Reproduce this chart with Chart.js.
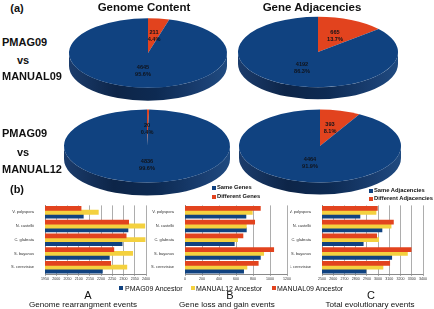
<!DOCTYPE html>
<html lang="en">
<head>
    <meta charset="UTF-8">
    <title>Genome Content and Gene Adjacencies</title>
    <style>
        html, body { margin: 0; padding: 0; background: #fff; overflow: hidden; }
        #page { position: relative; width: 434px; height: 309px; font-family: "Liberation Sans", Arial, sans-serif; color: #111; }
        #page canvas { position: absolute; }
        .txt { position: absolute; white-space: nowrap; line-height: 1; transform: translate(-50%, -50%); }
        .left { transform: translate(0, -50%); }
        .bold { font-weight: bold; }
        .mark { position: absolute; width: 4px; height: 4px; }
    </style>
</head>
<body>
    <div id="page"></div>

    <script src="https://cdn.jsdelivr.net/npm/chart.js"></script>
    <script>
        // Pie values, listed as [different, same]
        const genomeManual09 = [211, 4645];
        const adjacencyManual09 = [665, 4192];
        const genomeManual12 = [20, 4836];
        const adjacencyManual12 = [393, 4464];
        const genomeManual09Pct = ['4.4%', '95.6%'];
        const adjacencyManual09Pct = ['13.7%', '86.3%'];
        const genomeManual12Pct = ['0.4%', '99.6%'];
        const adjacencyManual12Pct = ['8.1%', '91.9%'];

        // Bar charts, categories run top to bottom
        const species = ['V. polyspora', 'N. castellii', 'C. glabrata', 'S. bayanus', 'S. cerevisiae'];
        const ancestors = ['PMAG09 Ancestor', 'MANUAL12 Ancestor', 'MANUAL09 Ancestor'];

        const rearrangePmag = [2120, 2319, 2293, 2236, 2205];
        const rearrangeManual12 = [2187, 2394, 2395, 2340, 2314];
        const rearrangeManual09 = [2110, 2322, 2311, 2256, 2242];

        const lossGainPmag = [715, 720, 578, 885, 688];
        const lossGainManual12 = [790, 720, 617, 924, 727];
        const lossGainManual09 = [885, 818, 680, 1042, 860];

        const totalPmag = [2837, 3033, 2866, 3120, 2890];
        const totalManual12 = [2980, 3114, 3004, 3260, 3042];
        const totalManual09 = [2992, 3135, 2986, 3293, 3102];

        const rearrangeTicks = [1950, 2000, 2050, 2100, 2150, 2200, 2250, 2300, 2350, 2400];
        const lossGainTicks = [0, 200, 400, 600, 800, 1000, 1200];
        const totalTicks = [2500, 2600, 2700, 2800, 2900, 3000, 3100, 3200, 3300, 3400];

        const BLUE = '#104280';
        const RED = '#e2431e';
        const YELLOW = '#f4d13f';
        const FONT = '"Liberation Sans", Arial, sans-serif';

        const page = document.getElementById('page');

        function addText(text, x, y, size, opts = {}) {
            const el = document.createElement('div');
            el.className = 'txt' + (opts.left ? ' left' : '') + (opts.bold ? ' bold' : '');
            el.textContent = text;
            el.style.left = x + 'px';
            el.style.top = y + 'px';
            el.style.fontSize = size + 'px';
            page.appendChild(el);
        }

        function addMark(color, x, y) {
            const el = document.createElement('div');
            el.className = 'mark';
            el.style.background = color;
            el.style.left = x + 'px';
            el.style.top = (y - 2) + 'px';
            page.appendChild(el);
        }

        function addCanvas(left, top, width, height) {
            const canvas = document.createElement('canvas');
            canvas.width = width;
            canvas.height = height;
            canvas.style.left = left + 'px';
            canvas.style.top = top + 'px';
            page.appendChild(canvas);
            return canvas;
        }

        // Tilted pie: squashes the arcs vertically and paints a shaded rim under them
        const tiltPlugin = {
            id: 'tilt',
            beforeDatasetsDraw(chart, args, opts) {
                const arc = chart.getDatasetMeta(0).data[0];
                const { ctx } = chart;
                const rx = arc.outerRadius;
                const ry = rx * opts.squash;
                const shade = ctx.createLinearGradient(arc.x - rx, 0, arc.x + rx, 0);
                shade.addColorStop(0, '#1b3c6c');
                shade.addColorStop(0.3, '#0d2548');
                shade.addColorStop(0.55, '#0d2a52');
                shade.addColorStop(0.85, '#1a3f72');
                shade.addColorStop(1, '#1f4a80');

                ctx.save();
                ctx.fillStyle = shade;
                ctx.beginPath();
                ctx.ellipse(arc.x, arc.y, rx, ry, 0, 0, Math.PI);
                ctx.ellipse(arc.x, arc.y + opts.depth, rx, ry, 0, Math.PI, 0, true);
                ctx.closePath();
                ctx.fill();
                ctx.restore();

                ctx.save();
                ctx.translate(0, arc.y);
                ctx.scale(1, opts.squash);
                ctx.translate(0, -arc.y);
            },
            afterDatasetsDraw(chart, args, opts) {
                const { ctx } = chart;
                ctx.restore();

                // value and percentage under each other on each slice
                const arc = chart.getDatasetMeta(0).data[0];
                const values = chart.data.datasets[0].data;
                ctx.save();
                ctx.fillStyle = '#10131a';
                ctx.font = 'bold 5.6px ' + FONT;
                ctx.textAlign = 'center';
                ctx.textBaseline = 'middle';
                values.forEach((value, i) => {
                    const [dx, dy] = opts.labelAt[i];
                    ctx.fillText(value, arc.x + dx, arc.y + dy - 3.5);
                    ctx.fillText(opts.percents[i], arc.x + dx, arc.y + dy + 3.5);
                });
                ctx.restore();
            }
        };

        function drawPie(values, percents, cx, cy, radius, squash, depth, labelAt) {
            const canvas = addCanvas(cx - 100, cy - 60, 200, 120);
            new Chart(canvas, {
                type: 'pie',
                data: {
                    labels: ['Different', 'Same'],
                    datasets: [{ data: values, backgroundColor: [RED, BLUE], borderWidth: 0, clip: false }]
                },
                options: {
                    responsive: false,
                    animation: false,
                    radius: radius,
                    plugins: {
                        legend: { display: false },
                        tooltip: { enabled: false },
                        tilt: { squash, depth, percents, labelAt }
                    }
                },
                plugins: [tiltPlugin]
            });
        }

        function drawBars(left, plotLeft, plotRight, pmag, manual12, manual09, ticks) {
            const width = plotRight - left + 6;
            const canvas = addCanvas(left, 200, width, 84);
            const series = [
                { label: ancestors[2], data: manual09, backgroundColor: RED },
                { label: ancestors[1], data: manual12, backgroundColor: YELLOW },
                { label: ancestors[0], data: pmag, backgroundColor: BLUE }
            ];
            new Chart(canvas, {
                type: 'bar',
                data: {
                    labels: species,
                    datasets: series.map(s => ({
                        ...s,
                        borderWidth: 0,
                        inflateAmount: 0.5 // closes the pale seams between touching bars
                    }))
                },
                options: {
                    indexAxis: 'y',
                    responsive: false,
                    animation: false,
                    datasets: { bar: { categoryPercentage: 0.84, barPercentage: 1 } },
                    layout: { padding: { top: 4, right: 6, bottom: 0, left: 0 } },
                    plugins: { legend: { display: false }, tooltip: { enabled: false } },
                    scales: {
                        x: {
                            min: ticks[0],
                            max: ticks[ticks.length - 1],
                            afterBuildTicks: scale => { scale.ticks = ticks.map(value => ({ value })); },
                            afterFit: scale => { scale.height = 10; },
                            grid: { color: '#8a8a8a', lineWidth: 0.7, tickLength: 2 },
                            border: { color: '#8a8a8a', width: 1 },
                            ticks: { font: { size: 3.6, family: FONT }, color: '#333', padding: 1, maxRotation: 0, autoSkip: false, callback: value => String(value) }
                        },
                        y: {
                            afterFit: scale => { scale.width = plotLeft - left; },
                            grid: { display: false },
                            border: { color: '#8a8a8a', width: 1 },
                            ticks: { font: { size: 4, family: FONT }, color: '#333', padding: 3, autoSkip: false }
                        }
                    }
                }
            });
        }

        drawPie(genomeManual09, genomeManual09Pct, 148, 53, 79, 0.44, 13, [[6, -17], [-5, 18]]);
        drawPie(adjacencyManual09, adjacencyManual09Pct, 318, 52, 80, 0.44, 12, [[17, -16], [-16, 16]]);
        drawPie(genomeManual12, genomeManual12Pct, 147, 146, 83, 0.44, 13, [[0, -17], [0, 19]]);
        drawPie(adjacencyManual12, adjacencyManual12Pct, 320, 146, 81, 0.45, 12, [[10, -18], [-10, 17]]);

        drawBars(0, 45, 146, rearrangePmag, rearrangeManual12, rearrangeManual09, rearrangeTicks);
        drawBars(150, 185, 287, lossGainPmag, lossGainManual12, lossGainManual09, lossGainTicks);
        drawBars(290, 322, 423, totalPmag, totalManual12, totalManual09, totalTicks);

        addText('(a)', 17, 8, 11, { bold: true });
        addText('(b)', 17, 189, 11, { bold: true });
        addText('Genome Content', 144, 8, 11.5, { bold: true });
        addText('Gene Adjacencies', 312, 8, 11.5, { bold: true });

        addText('PMAG09', 2, 42, 11, { bold: true, left: true });
        addText('vs', 23, 60, 11, { bold: true });
        addText('MANUAL09', 2, 76, 11, { bold: true, left: true });
        addText('PMAG09', 2, 133, 11, { bold: true, left: true });
        addText('vs', 23, 152, 11, { bold: true });
        addText('MANUAL12', 2, 169, 11, { bold: true, left: true });

        addMark(BLUE, 212, 188);
        addText('Same Genes', 217, 188, 5.8, { bold: true, left: true });
        addMark(RED, 212, 197);
        addText('Different Genes', 217, 197, 5.8, { bold: true, left: true });
        addMark(BLUE, 369, 191);
        addText('Same Adjacencies', 374, 191, 5.8, { bold: true, left: true });
        addMark(RED, 369, 199);
        addText('Different Adjacencies', 374, 199, 5.8, { bold: true, left: true });

        addMark(BLUE, 119, 288);
        addText(ancestors[0], 125, 288, 7, { left: true });
        addMark(YELLOW, 191, 288);
        addText(ancestors[1], 196, 288, 7, { left: true });
        addMark(RED, 272, 288);
        addText(ancestors[2], 277, 288, 7, { left: true });

        addText('A', 88, 295, 11);
        addText('B', 230, 295, 11);
        addText('C', 371, 295, 11);
        addText('Genome rearrangment events', 83, 305, 8.1);
        addText('Gene loss and gain events', 227, 305, 8.1);
        addText('Total evolutionary events', 370, 305, 8.1);
    </script>
</body>
</html>
